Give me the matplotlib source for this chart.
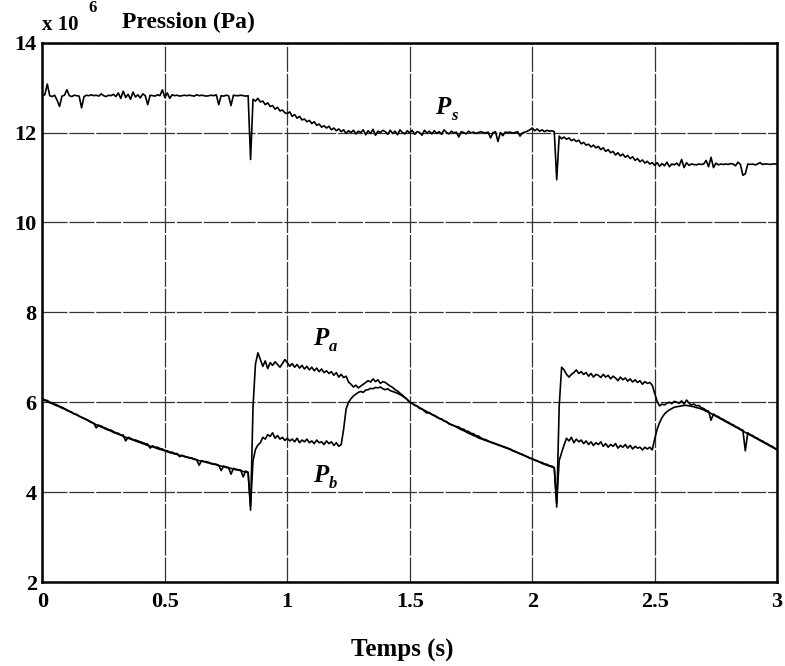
"""Pressions Ps, Pa, Pb en fonction du temps (figure scannée)."""

import matplotlib
matplotlib.use("Agg")
import matplotlib.pyplot as plt
import numpy as np

# time base, 0 -> 3 s every 0.01 s (301 samples)
temps = np.round(np.arange(0, 301) * 0.01, 2)

# supply pressure Ps (x 1e6 Pa)
p_s = [
    12.82, 12.84, 13.08, 12.82, 12.80, 12.83, 12.72, 12.58, 12.81, 12.83,
    12.95, 12.82, 12.80, 12.83, 12.82, 12.81, 12.55, 12.80, 12.83, 12.82,
    12.84, 12.82, 12.83, 12.81, 12.86, 12.82, 12.80, 12.83, 12.82, 12.85,
    12.80, 12.88, 12.76, 12.92, 12.78, 12.85, 12.74, 12.90, 12.79, 12.84,
    12.77, 12.86, 12.82, 12.62, 12.83, 12.82, 12.81, 12.84, 12.82, 12.95,
    12.78, 12.88, 12.76, 12.84, 12.82, 12.83, 12.81, 12.82, 12.83, 12.82,
    12.83, 12.82, 12.81, 12.84, 12.82, 12.83, 12.82, 12.81, 12.82, 12.83,
    12.82, 12.84, 12.62, 12.82, 12.81, 12.83, 12.82, 12.60, 12.83, 12.82,
    12.82, 12.83, 12.82, 12.81, 12.82, 11.40, 12.74, 12.70, 12.76, 12.68,
    12.70, 12.62, 12.66, 12.58, 12.60, 12.52, 12.56, 12.48, 12.50, 12.44,
    12.42, 12.46, 12.36, 12.40, 12.32, 12.36, 12.28, 12.30, 12.24, 12.27,
    12.20, 12.24, 12.16, 12.19, 12.12, 12.15, 12.10, 12.14, 12.06, 12.10,
    12.04, 12.08, 12.02, 12.06, 11.98, 12.04, 12.00, 12.05, 11.97, 12.03,
    12.00, 12.06, 11.95, 12.04, 11.98, 12.07, 11.94, 12.03, 12.00, 12.05,
    12.02, 11.96, 12.05, 11.98, 12.03, 11.95, 12.06, 12.00, 11.97, 12.04,
    11.99, 12.05, 11.96, 12.02, 12.00, 11.94, 12.05, 11.99, 12.03, 11.97,
    12.04, 11.98, 12.02, 11.96, 12.06, 12.00, 11.97, 12.03, 11.99, 12.01,
    11.90, 12.02, 12.00, 11.97, 12.03, 11.99, 12.01, 11.98, 12.00, 12.02,
    12.00, 11.99, 12.01, 11.88, 12.00, 12.02, 11.80, 12.00, 11.93, 12.01,
    12.00, 12.01, 11.99, 12.00, 12.02, 11.92, 11.99, 12.01, 12.03, 12.06,
    12.10, 12.04, 12.08, 12.03, 12.06, 12.02, 12.05, 12.03, 12.04, 12.02,
    10.95, 11.92, 11.86, 11.90, 11.85, 11.88, 11.82, 11.85, 11.80, 11.83,
    11.75, 11.78, 11.72, 11.74, 11.68, 11.72, 11.66, 11.69, 11.62, 11.66,
    11.58, 11.62, 11.55, 11.58, 11.50, 11.55, 11.48, 11.52, 11.45, 11.49,
    11.42, 11.46, 11.38, 11.42, 11.35, 11.39, 11.32, 11.36, 11.30, 11.33,
    11.27, 11.33, 11.25, 11.31, 11.26, 11.34, 11.24, 11.30, 11.28, 11.32,
    11.26, 11.40, 11.22, 11.33, 11.27, 11.30, 11.29, 11.28, 11.30, 11.29,
    11.30, 11.38, 11.24, 11.45, 11.22, 11.32, 11.28, 11.30, 11.29, 11.30,
    11.29, 11.31, 11.30, 11.26, 11.34, 11.29, 11.05, 11.08, 11.30, 11.29,
    11.30, 11.28, 11.30, 11.33, 11.29, 11.30, 11.30, 11.29, 11.30, 11.30,
    11.30,
]

# chamber pressure Pa
p_a = [
    6.08, 6.05, 6.04, 6.00, 5.99, 5.96, 5.94, 5.91, 5.89, 5.86,
    5.83, 5.80, 5.78, 5.74, 5.73, 5.69, 5.67, 5.64, 5.62, 5.59,
    5.56, 5.53, 5.43, 5.49, 5.47, 5.44, 5.42, 5.39, 5.38, 5.35,
    5.32, 5.31, 5.27, 5.27, 5.14, 5.22, 5.20, 5.17, 5.16, 5.14,
    5.12, 5.10, 5.08, 5.07, 4.98, 5.03, 5.00, 5.00, 4.97, 4.96,
    4.93, 4.92, 4.89, 4.89, 4.86, 4.86, 4.79, 4.82, 4.80, 4.78,
    4.77, 4.76, 4.74, 4.72, 4.60, 4.70, 4.68, 4.68, 4.66, 4.64,
    4.63, 4.62, 4.60, 4.48, 4.58, 4.56, 4.55, 4.40, 4.53, 4.51,
    4.50, 4.49, 4.34, 4.47, 4.44, 3.60, 5.90, 6.85, 7.10, 6.95,
    6.80, 6.92, 6.75, 6.88, 6.82, 6.90, 6.84, 6.78, 6.86, 6.95,
    6.88, 6.80, 6.86, 6.78, 6.84, 6.76, 6.82, 6.74, 6.80, 6.72,
    6.78, 6.70, 6.76, 6.68, 6.74, 6.66, 6.70, 6.64, 6.68, 6.60,
    6.66, 6.56, 6.62, 6.55, 6.58, 6.45, 6.40, 6.34, 6.38, 6.32,
    6.36, 6.40, 6.44, 6.48, 6.45, 6.52, 6.46, 6.50, 6.42, 6.46,
    6.44, 6.40, 6.36, 6.33, 6.28, 6.25, 6.20, 6.16, 6.11, 6.06,
    6.00, 5.98, 5.93, 5.92, 5.86, 5.85, 5.80, 5.76, 5.77, 5.73,
    5.71, 5.68, 5.64, 5.63, 5.58, 5.57, 5.52, 5.50, 5.48, 5.46,
    5.45, 5.41, 5.40, 5.36, 5.35, 5.31, 5.30, 5.26, 5.25, 5.21,
    5.18, 5.17, 5.14, 5.12, 5.10, 5.08, 5.06, 5.04, 5.02, 5.00,
    4.98, 4.96, 4.93, 4.91, 4.88, 4.86, 4.84, 4.81, 4.79, 4.76,
    4.74, 4.72, 4.70, 4.67, 4.66, 4.63, 4.62, 4.59, 4.58, 4.55,
    3.67, 5.90, 6.78, 6.72, 6.62, 6.56, 6.62, 6.66, 6.72, 6.64,
    6.68, 6.62, 6.66, 6.58, 6.64, 6.56, 6.62, 6.60, 6.55, 6.62,
    6.56, 6.60, 6.52, 6.58, 6.54, 6.48, 6.56, 6.50, 6.54, 6.47,
    6.52, 6.45, 6.50, 6.44, 6.48, 6.40, 6.46, 6.42, 6.44, 6.38,
    6.20, 6.02, 5.92, 5.96, 5.94, 5.98, 6.00, 5.97, 6.02, 6.00,
    5.98, 6.03, 5.96, 6.05, 5.98, 5.94, 5.96, 5.92, 5.93, 5.88,
    5.86, 5.82, 5.80, 5.60, 5.74, 5.70, 5.68, 5.64, 5.62, 5.58,
    5.56, 5.52, 5.50, 5.46, 5.44, 5.40, 5.38, 4.92, 5.32, 5.28,
    5.26, 5.22, 5.20, 5.16, 5.14, 5.10, 5.08, 5.04, 5.02, 4.98,
    4.95,
]

# chamber pressure Pb
p_b = [
    6.06, 6.04, 6.02, 5.99, 5.97, 5.94, 5.92, 5.90, 5.87, 5.85,
    5.82, 5.80, 5.77, 5.74, 5.72, 5.69, 5.66, 5.64, 5.61, 5.58,
    5.55, 5.53, 5.50, 5.48, 5.45, 5.43, 5.40, 5.38, 5.36, 5.33,
    5.31, 5.29, 5.27, 5.24, 5.22, 5.20, 5.18, 5.16, 5.14, 5.12,
    5.10, 5.08, 5.06, 5.04, 5.02, 5.01, 4.99, 4.97, 4.95, 4.94,
    4.92, 4.90, 4.88, 4.87, 4.85, 4.84, 4.82, 4.81, 4.79, 4.78,
    4.76, 4.75, 4.73, 4.72, 4.70, 4.69, 4.68, 4.66, 4.65, 4.63,
    4.62, 4.61, 4.59, 4.58, 4.57, 4.55, 4.54, 4.53, 4.51, 4.50,
    4.49, 4.48, 4.46, 4.45, 4.44, 3.70, 4.70, 4.95, 5.05, 5.10,
    5.22, 5.18, 5.28, 5.24, 5.32, 5.20, 5.26, 5.18, 5.22, 5.15,
    5.20, 5.14, 5.18, 5.12, 5.20, 5.10, 5.16, 5.12, 5.18, 5.10,
    5.14, 5.08, 5.16, 5.10, 5.12, 5.06, 5.14, 5.08, 5.12, 5.04,
    5.10, 5.02, 5.06, 5.40, 5.85, 6.00, 6.08, 6.14, 6.18, 6.22,
    6.24, 6.22, 6.27, 6.28, 6.31, 6.30, 6.33, 6.32, 6.34, 6.30,
    6.28, 6.30, 6.26, 6.24, 6.22, 6.20, 6.17, 6.14, 6.10, 6.06,
    6.00, 5.97, 5.94, 5.91, 5.88, 5.85, 5.82, 5.79, 5.76, 5.73,
    5.70, 5.67, 5.64, 5.62, 5.59, 5.56, 5.53, 5.50, 5.48, 5.45,
    5.42, 5.39, 5.37, 5.34, 5.31, 5.29, 5.26, 5.24, 5.21, 5.19,
    5.17, 5.15, 5.13, 5.11, 5.09, 5.07, 5.05, 5.03, 5.01, 4.99,
    4.97, 4.95, 4.92, 4.90, 4.88, 4.85, 4.83, 4.81, 4.78, 4.76,
    4.74, 4.71, 4.69, 4.67, 4.64, 4.62, 4.60, 4.58, 4.56, 4.54,
    3.75, 4.70, 4.88, 5.05, 5.20, 5.14, 5.22, 5.10, 5.18, 5.12,
    5.16, 5.08, 5.14, 5.06, 5.12, 5.04, 5.10, 5.06, 5.12, 5.02,
    5.08, 5.00, 5.06, 5.02, 5.08, 4.98, 5.04, 5.00, 5.06, 4.98,
    5.04, 4.96, 5.02, 4.98, 5.00, 4.94, 5.00, 4.96, 5.00, 4.94,
    5.18, 5.40, 5.55, 5.66, 5.74, 5.79, 5.83, 5.86, 5.89, 5.90,
    5.91, 5.92, 5.93, 5.93, 5.92, 5.91, 5.90, 5.88, 5.87, 5.85,
    5.83, 5.80, 5.78, 5.75, 5.72, 5.69, 5.66, 5.63, 5.60, 5.57,
    5.54, 5.51, 5.48, 5.45, 5.42, 5.39, 5.36, 5.33, 5.30, 5.27,
    5.24, 5.21, 5.18, 5.15, 5.12, 5.09, 5.06, 5.03, 5.00, 4.97,
    4.94,
]

x_ticks = [0, 0.5, 1, 1.5, 2, 2.5, 3]
x_tick_labels = ["0", "0.5", "1", "1.5", "2", "2.5", "3"]
y_ticks = [2, 4, 6, 8, 10, 12, 14]

SERIF = ["Liberation Serif", "DejaVu Serif"]
plt.rcParams["font.family"] = SERIF
plt.rcParams["font.weight"] = "bold"

fig = plt.figure(figsize=(7.85, 6.66), dpi=100)
ax = fig.add_axes([0.054, 0.126, 0.936, 0.810])

for serie in (p_s, p_a, p_b):
    ax.plot(temps, serie, color="black", lw=1.2)

ax.set_xlim(0, 3)
ax.set_ylim(2, 14)
ax.set_xticks(x_ticks)
ax.set_xticklabels(x_tick_labels)
ax.set_yticks(y_ticks)
ax.tick_params(length=0, labelsize=16, pad=7)
ax.tick_params(axis="y", pad=4)
for lab in ax.get_xticklabels() + ax.get_yticklabels():
    lab.set_fontweight("bold")

ax.grid(True, color="0.2", lw=0.9, linestyle=(0, (20, 1.5)))
for sp in ax.spines.values():
    sp.set_linewidth(1.8)

# curve labels
lab_kw = dict(fontsize=18, fontweight="bold", fontstyle="italic", va="center")
sub_kw = dict(fontsize=12, fontweight="bold", fontstyle="italic", va="center")
ax.text(1.605, 12.55, "P", **lab_kw)
ax.text(1.668, 12.36, "s", **sub_kw)
ax.text(1.105, 7.42, "P", **lab_kw)
ax.text(1.168, 7.23, "a", **sub_kw)
ax.text(1.105, 4.36, "P", **lab_kw)
ax.text(1.168, 4.18, "b", **sub_kw)

# axis titles
fig.text(0.054, 0.962, "x 10", fontsize=15, fontweight="bold", va="center")
fig.text(0.112, 0.988, "6", fontsize=12, fontweight="bold", va="center")
fig.text(0.155, 0.966, "Pression (Pa)", fontsize=17, fontweight="bold",
         va="center")
fig.text(0.513, 0.023, "Temps (s)", fontsize=18, fontweight="bold",
         ha="center", va="center")

fig.savefig("out.png", dpi=100)
